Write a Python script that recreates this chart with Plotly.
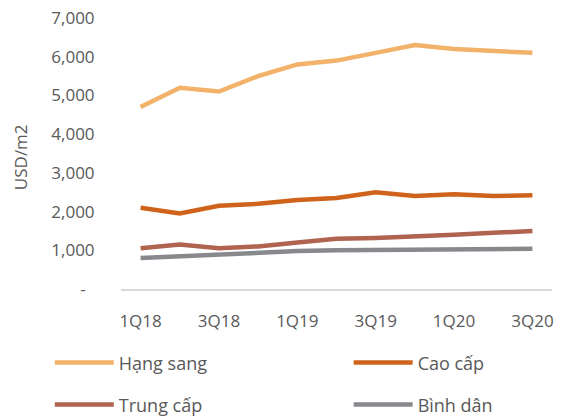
import plotly.graph_objects as go

quarters = ["1Q18", "2Q18", "3Q18", "4Q18", "1Q19", "2Q19", "3Q19", "4Q19", "1Q20", "2Q20", "3Q20"]
hang_sang = [4700, 5200, 5100, 5500, 5800, 5900, 6100, 6300, 6200, 6150, 6100]
cao_cap = [2100, 1950, 2150, 2200, 2300, 2350, 2500, 2400, 2450, 2400, 2420]
trung_cap = [1050, 1150, 1050, 1100, 1200, 1300, 1320, 1350, 1400, 1450, 1500]
binh_dan = [800, 850, 900, 950, 980, 1000, 1010, 1010, 1020, 1030, 1040]

x_tick_labels = ["1Q18", "3Q18", "1Q19", "3Q19", "1Q20", "3Q20"]
y_tick_vals = [0, 1000, 2000, 3000, 4000, 5000, 6000, 7000]
y_tick_text = ["-\u00a0\u00a0", "1,000", "2,000", "3,000", "4,000", "5,000", "6,000", "7,000"]

# name, values, colour, legend id, legend position (container fractions)
series = [
    ("Hạng sang", hang_sang, "#F2B26A", "legend", (0.088, 0.136)),
    ("Cao cấp", cao_cap, "#D0631B", "legend2", (0.616, 0.136)),
    ("Trung cấp", trung_cap, "#B0634F", "legend3", (0.088, 0.036)),
    ("Bình dân", binh_dan, "#87898C", "legend4", (0.616, 0.036)),
]

font_family = "'Open Sans', sans-serif"
text_color = "#595959"

fig = go.Figure()
legends = {}
for name, vals, color, lg, (lx, ly) in series:
    fig.add_trace(go.Scatter(
        x=quarters, y=vals, name=name, mode="lines",
        line=dict(color=color, width=4.5),
        legend=lg,
    ))
    legends[lg] = dict(
        x=lx, y=ly, xref="container", yref="container",
        xanchor="left", yanchor="middle",
        itemwidth=59,
        font=dict(family=font_family, size=18, color=text_color),
        bgcolor="rgba(0,0,0,0)",
    )

fig.update_layout(
    width=566, height=420,
    margin=dict(l=121, r=14, t=18, b=131, autoexpand=False),
    paper_bgcolor="white", plot_bgcolor="white",
    font=dict(family=font_family, color=text_color, size=17),
    showlegend=True,
    **legends,
    xaxis=dict(
        type="category", range=[-0.5, 10.5],
        tickmode="array", tickvals=x_tick_labels, ticktext=x_tick_labels,
        showgrid=False, zeroline=False,
        showline=True, linecolor="#D9D9D9", linewidth=1.5,
        ticks="outside", ticklen=16, tickcolor="rgba(0,0,0,0)",
        tickfont=dict(size=17, color=text_color),
    ),
    yaxis=dict(
        range=[0, 7000], tickmode="array",
        tickvals=y_tick_vals, ticktext=y_tick_text,
        showgrid=False, zeroline=False, showline=False,
        ticks="outside", ticklen=22, tickcolor="rgba(0,0,0,0)",
        tickfont=dict(size=17, color=text_color),
    ),
    annotations=[dict(
        text="USD/m2", textangle=-90, showarrow=False,
        xref="paper", yref="paper", x=-0.234, y=0.487,
        xanchor="center", yanchor="middle",
        font=dict(family=font_family, size=17, color=text_color),
    )],
)

fig.write_html("out.html")
